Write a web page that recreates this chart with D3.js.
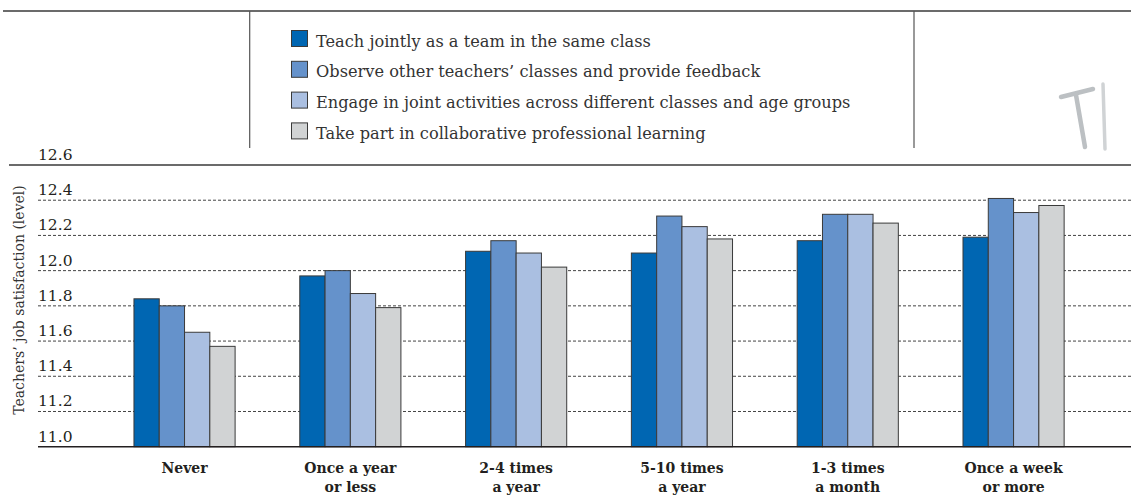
<!DOCTYPE html>
<html>
<head>
<meta charset="utf-8">
<script src="https://cdn.jsdelivr.net/npm/d3@7"></script>
<style>
  body { margin: 0; background: #fff; }
  svg { display: block; }
  text { font-family: "DejaVu Serif", "Liberation Serif", serif; fill: #231f20; }
</style>
</head>
<body>
<div id="chart"></div>
<script>
// Categories on the x axis (two lines each)
const categories = ["Never", "Once a year or less", "2-4 times a year", "5-10 times a year", "1-3 times a month", "Once a week or more"];
const categoryLines = [["Never"], ["Once a year", "or less"], ["2-4 times", "a year"], ["5-10 times", "a year"], ["1-3 times", "a month"], ["Once a week", "or more"]];

const seriesNames = [
    "Teach jointly as a team in the same class",
    "Observe other teachers\u2019 classes and provide feedback",
    "Engage in joint activities across different classes and age groups",
    "Take part in collaborative professional learning"
];
const seriesColors = ["#0066b2", "#6592cb", "#aabfe1", "#d1d3d4"];

// values per series, one per category
const teachJointly = [11.84, 11.97, 12.11, 12.10, 12.17, 12.19];
const observeFeedback = [11.80, 12.00, 12.17, 12.31, 12.32, 12.41];
const jointActivities = [11.65, 11.87, 12.10, 12.25, 12.32, 12.33];
const collabLearning = [11.57, 11.79, 12.02, 12.18, 12.27, 12.37];
const seriesValues = [teachJointly, observeFeedback, jointActivities, collabLearning];

const yTicks = [11.0, 11.2, 11.4, 11.6, 11.8, 12.0, 12.2, 12.4, 12.6];

const width = 1131, height = 495;
const plotLeft = 38, plotRight = 1131;
const plotTop = 165, plotBottom = 446.7;

const svg = d3.select("#chart").append("svg")
    .attr("width", width)
    .attr("height", height);

// Scales
const y = d3.scaleLinear().domain([11.0, 12.6]).range([plotBottom, plotTop]);
const x0 = d3.scaleBand().domain(categories).range([69.3, 1128.8]).padding(0.39);
const x1 = d3.scaleBand().domain(seriesNames).range([0, x0.bandwidth()]).padding(0);

// Top frame of the legend box
svg.append("line")
    .attr("x1", 3).attr("x2", width).attr("y1", 11).attr("y2", 11)
    .attr("stroke", "#3a3a3a").attr("stroke-width", 1.5);
[249.7, 914].forEach(vx => {
    svg.append("line")
        .attr("x1", vx).attr("x2", vx).attr("y1", 11).attr("y2", 148)
        .attr("stroke", "#555").attr("stroke-width", 1.2);
});

// Legend
const legend = svg.append("g").attr("transform", "translate(291,30)");
const legendRows = legend.selectAll("g.row")
    .data(seriesNames)
    .enter().append("g")
    .attr("class", "row")
    .attr("transform", (d, i) => `translate(0,${i * 30.8})`);
legendRows.append("rect")
    .attr("x", 0.5).attr("y", 0.5)
    .attr("width", 16).attr("height", 16)
    .attr("fill", (d, i) => seriesColors[i])
    .attr("stroke", "#3a3a3a").attr("stroke-width", 1);
legendRows.append("text")
    .attr("x", 25).attr("y", 16.5)
    .style("font-size", "16.2px")
    .style("fill", "#333")
    .text(d => d);

// Faint "T" decoration at top right
const deco = svg.append("g")
    .attr("fill", "none").attr("stroke", "#bcc0c3")
    .attr("stroke-width", 4.5).attr("stroke-linecap", "round");
deco.append("path").attr("d", "M1061,97 L1093,89");
deco.append("path").attr("d", "M1076,95 L1085,147");
deco.append("path").attr("d", "M1103,84 L1105,149").attr("stroke-width", 3.5).attr("stroke", "#d0d3d5");

// Gridlines
const grid = svg.append("g");
grid.selectAll("line.grid")
    .data(yTicks.filter(v => v > 11.0 && v < 12.6))
    .enter().append("line")
    .attr("class", "grid")
    .attr("x1", plotLeft).attr("x2", plotRight)
    .attr("y1", d => y(d)).attr("y2", d => y(d))
    .attr("stroke", "#444").attr("stroke-width", 1)
    .attr("stroke-dasharray", "3,2");

// top line at 12.6
svg.append("line")
    .attr("x1", 9).attr("x2", width).attr("y1", y(12.6)).attr("y2", y(12.6))
    .attr("stroke", "#3a3a3a").attr("stroke-width", 1.5);

// Y tick labels (sit above their gridlines)
svg.append("g").selectAll("text")
    .data(yTicks)
    .enter().append("text")
    .attr("x", plotLeft)
    .attr("y", d => y(d) - 5)
    .style("font-size", "15.5px")
    .text(d => d3.format(".1f")(d));

// Y axis title
svg.append("text")
    .attr("transform", `translate(24,${(185 + 415) / 2}) rotate(-90)`)
    .attr("text-anchor", "middle")
    .style("font-size", "14px")
    .style("fill", "#333")
    .text("Teachers\u2019 job satisfaction (level)");

// Bars
const groups = svg.append("g").selectAll("g.group")
    .data(categories)
    .enter().append("g")
    .attr("class", "group")
    .attr("transform", d => `translate(${x0(d)},0)`);

groups.selectAll("rect")
    .data((d, ci) => seriesNames.map((s, si) => ({ s, si, v: seriesValues[si][ci] })))
    .enter().append("rect")
    .attr("x", d => x1(d.s))
    .attr("width", x1.bandwidth())
    .attr("y", d => y(d.v))
    .attr("height", d => plotBottom - y(d.v))
    .attr("fill", d => seriesColors[d.si])
    .attr("stroke", "#3a3a3a")
    .attr("stroke-width", 1);

// X axis baseline
svg.append("line")
    .attr("x1", plotLeft).attr("x2", plotRight)
    .attr("y1", plotBottom).attr("y2", plotBottom)
    .attr("stroke", "#231f20").attr("stroke-width", 1.5);

// X labels
const xLabels = svg.append("g").selectAll("text")
    .data(categories)
    .enter().append("text")
    .attr("text-anchor", "middle")
    .attr("x", d => x0(d) + x0.bandwidth() / 2)
    .attr("y", 473)
    .style("font-size", "14px")
    .style("font-weight", "bold");
xLabels.selectAll("tspan")
    .data((d, i) => categoryLines[i])
    .enter().append("tspan")
    .attr("x", function () { return d3.select(this.parentNode).attr("x"); })
    .attr("dy", (d, i) => i === 0 ? 0 : 19)
    .text(d => d);
</script>
</body>
</html>
